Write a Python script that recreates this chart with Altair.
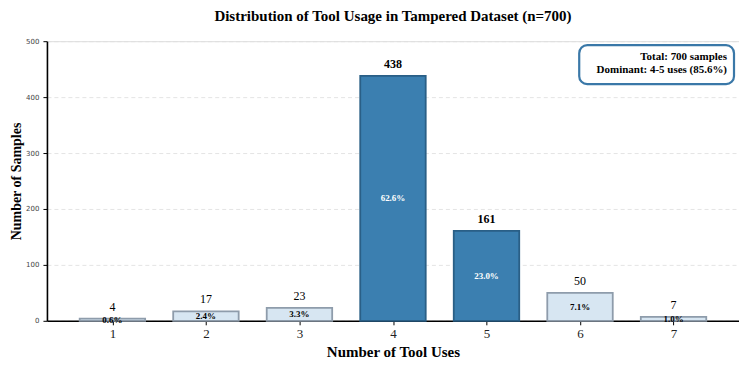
import altair as alt
import pandas as pd

uses = [1, 2, 3, 4, 5, 6, 7]
counts = [4, 17, 23, 438, 161, 50, 7]
dominant = [False, False, False, True, True, False, False]
total = 700

df = pd.DataFrame({"uses": uses, "count": counts, "dominant": dominant})
df["start"] = df["uses"] - 0.35
df["end"] = df["uses"] + 0.35
df["pct"] = [f"{c / total * 100:.1f}%" for c in counts]
df["mid"] = df["count"] / 2
df["grp"] = ["dom" if d else "other" for d in dominant]

SERIF = "Liberation Serif"

xscale = alt.Scale(domain=[0.3, 7.7], nice=False, zero=False)
yscale = alt.Scale(domain=[0, 500], nice=False)

xaxis = alt.Axis(values=uses, format="d", title="Number of Tool Uses", grid=False,
                 labelFont=SERIF, labelFontSize=13, labelColor="#222",
                 titleFont=SERIF, titleFontSize=15, titleFontWeight="bold", titleColor="#000",
                 domainColor="#000", domainWidth=1.6, tickColor="#000", tickSize=4,
                 labelPadding=3, titlePadding=4)
yaxis = alt.Axis(values=[0, 100, 200, 300, 400, 500], title="Number of Samples", grid=True,
                 gridDash=[4, 3], gridColor="#dddddd", gridWidth=0.8,
                 labelFont="DejaVu Sans", labelFontSize=7, labelColor="#444",
                 titleFont=SERIF, titleFontSize=14, titleFontWeight="bold", titleColor="#000",
                 domainColor="#000", domainWidth=1.6, tickColor="#000", tickSize=4,
                 labelPadding=4, titlePadding=2)

base = alt.Chart(df)

bars = base.mark_bar(strokeWidth=1.8).encode(
    x=alt.X("start:Q", scale=xscale, axis=xaxis),
    x2="end:Q",
    y=alt.Y("count:Q", scale=yscale, axis=yaxis),
    y2=alt.datum(0),
    fill=alt.Color("grp:N", scale=alt.Scale(domain=["dom", "other"], range=["#3b7fb0", "#d7e6f2"]), legend=None),
    stroke=alt.Stroke("grp:N", scale=alt.Scale(domain=["dom", "other"], range=["#2a5f86", "#8e9cab"]), legend=None),
)

count_dom = base.transform_filter("datum.dominant").mark_text(
    font=SERIF, fontSize=12, fontWeight="bold", baseline="bottom", dy=-5, color="#000"
).encode(x=alt.X("uses:Q", scale=xscale), y=alt.Y("count:Q", scale=yscale), text="count:Q")

count_oth = base.transform_filter("!datum.dominant").mark_text(
    font=SERIF, fontSize=12, baseline="bottom", dy=-5, color="#000"
).encode(x=alt.X("uses:Q", scale=xscale), y=alt.Y("count:Q", scale=yscale), text="count:Q")

pct_dom = base.transform_filter("datum.dominant").mark_text(
    font=SERIF, fontSize=9, fontWeight="bold", baseline="middle", color="white"
).encode(x=alt.X("uses:Q", scale=xscale), y=alt.Y("mid:Q", scale=yscale), text="pct:N")

pct_oth = base.transform_filter("!datum.dominant").mark_text(
    font=SERIF, fontSize=9, fontWeight="bold", baseline="middle", color="#000"
).encode(x=alt.X("uses:Q", scale=xscale), y=alt.Y("mid:Q", scale=yscale), text="pct:N")

box = alt.Chart(pd.DataFrame({"a": [0]})).mark_rect(
    fill="white", stroke="#3a78a8", strokeWidth=2.2, cornerRadius=8
).encode(x=alt.value(533), x2=alt.value(688), y=alt.value(4), y2=alt.value(43))

box_text = alt.Chart(pd.DataFrame({"t": [["Total: 700 samples", "Dominant: 4-5 uses (85.6%)"]]})).mark_text(
    font=SERIF, fontSize=11, fontWeight="bold", align="right", baseline="top", lineHeight=13, color="#000"
).encode(x=alt.value(681), y=alt.value(10), text="t")

chart = alt.layer(bars, count_dom, count_oth, pct_dom, pct_oth, box, box_text).properties(
    width=693, height=280,
    title=alt.TitleParams("Distribution of Tool Usage in Tampered Dataset (n=700)",
                          font=SERIF, fontSize=15, fontWeight="bold", color="#000", offset=13),
    autosize=alt.AutoSizeParams(type="none"),
    padding={"left": 39, "top": 33, "right": 0, "bottom": 38},
).configure_view(stroke=None).configure(background="white")

chart.save("out.html", embed_options={"renderer": "svg", "actions": False})
